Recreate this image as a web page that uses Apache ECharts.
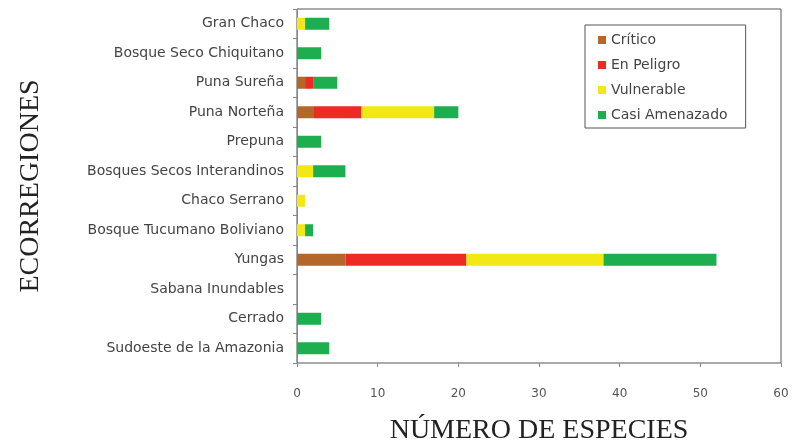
<!DOCTYPE html>
<html>
<head>
<meta charset="utf-8">
<script src="https://cdn.jsdelivr.net/npm/echarts@6/dist/echarts.min.js"></script>
<style>html,body{margin:0;padding:0;background:#fff}#c{width:792px;height:444px}</style>
</head>
<body>
<div id="c"></div>
<script>
const categories = ["Gran Chaco","Bosque Seco Chiquitano","Puna Sureña","Puna Norteña","Prepuna","Bosques Secos Interandinos","Chaco Serrano","Bosque Tucumano Boliviano","Yungas","Sabana Inundables","Cerrado","Sudoeste de la Amazonia"];
const seriesNames = ["Crítico","En Peligro","Vulnerable","Casi Amenazado"];
const critico     = [0,0,1,2,0,0,0,0,6,0,0,0];
const enPeligro   = [0,0,1,6,0,0,0,0,15,0,0,0];
const vulnerable  = [1,0,0,9,0,2,1,1,17,0,0,0];
const casiAmenaz  = [3,3,3,3,3,4,0,1,14,0,3,4];
const xTicks = [0,10,20,30,40,50,60];
const colors = ["#B5662B","#EE2A24","#F2E816","#1DAE50"];
const values = [critico, enPeligro, vulnerable, casiAmenaz];

const chart = echarts.init(document.getElementById('c'));
chart.setOption({
  animation: false,
  backgroundColor: '#fff',
  grid: {left: 297, top: 9, right: 11, bottom: 81, show: true, borderColor: '#555', borderWidth: 1, containLabel: false, outerBoundsMode: 'none'},
  legend: {
    orient: 'vertical', left: 585, top: 25,
    data: seriesNames,
    icon: 'rect', itemWidth: 8, itemHeight: 8, itemGap: 11,
    padding: [8, 18, 6, 13],
    borderColor: '#555', borderWidth: 1,
    textStyle: {fontFamily: 'DejaVu Sans', fontSize: 14, color: '#444'}
  },
  xAxis: {
    type: 'value', min: xTicks[0], max: xTicks[xTicks.length-1], interval: 10,
    name: 'NÚMERO DE ESPECIES', nameLocation: 'middle', nameGap: 54,
    nameTextStyle: {fontFamily: 'Liberation Serif', fontSize: 28, color: '#222'},
    axisLine: {show: true, lineStyle: {color: '#aaa'}},
    axisTick: {show: true, length: 4, lineStyle: {color: '#888'}},
    axisLabel: {margin: 25, fontFamily: 'DejaVu Sans', fontSize: 12, color: '#555'},
    splitLine: {show: false}
  },
  yAxis: {
    type: 'category', data: categories, inverse: true,
    name: 'ECORREGIONES', nameLocation: 'middle', nameGap: 252, nameRotate: 90,
    nameTextStyle: {fontFamily: 'Liberation Serif', fontSize: 28, color: '#222'},
    axisLine: {show: true, lineStyle: {color: '#888'}},
    axisTick: {show: true, length: 4, lineStyle: {color: '#888'}},
    axisLabel: {margin: 13, fontFamily: 'DejaVu Sans', fontSize: 14, color: '#444'}
  },
  series: seriesNames.map((n, i) => ({
    name: n, type: 'bar', stack: 'total', data: values[i], barWidth: 12,
    itemStyle: {color: colors[i]}
  }))
});
</script>
</body>
</html>
